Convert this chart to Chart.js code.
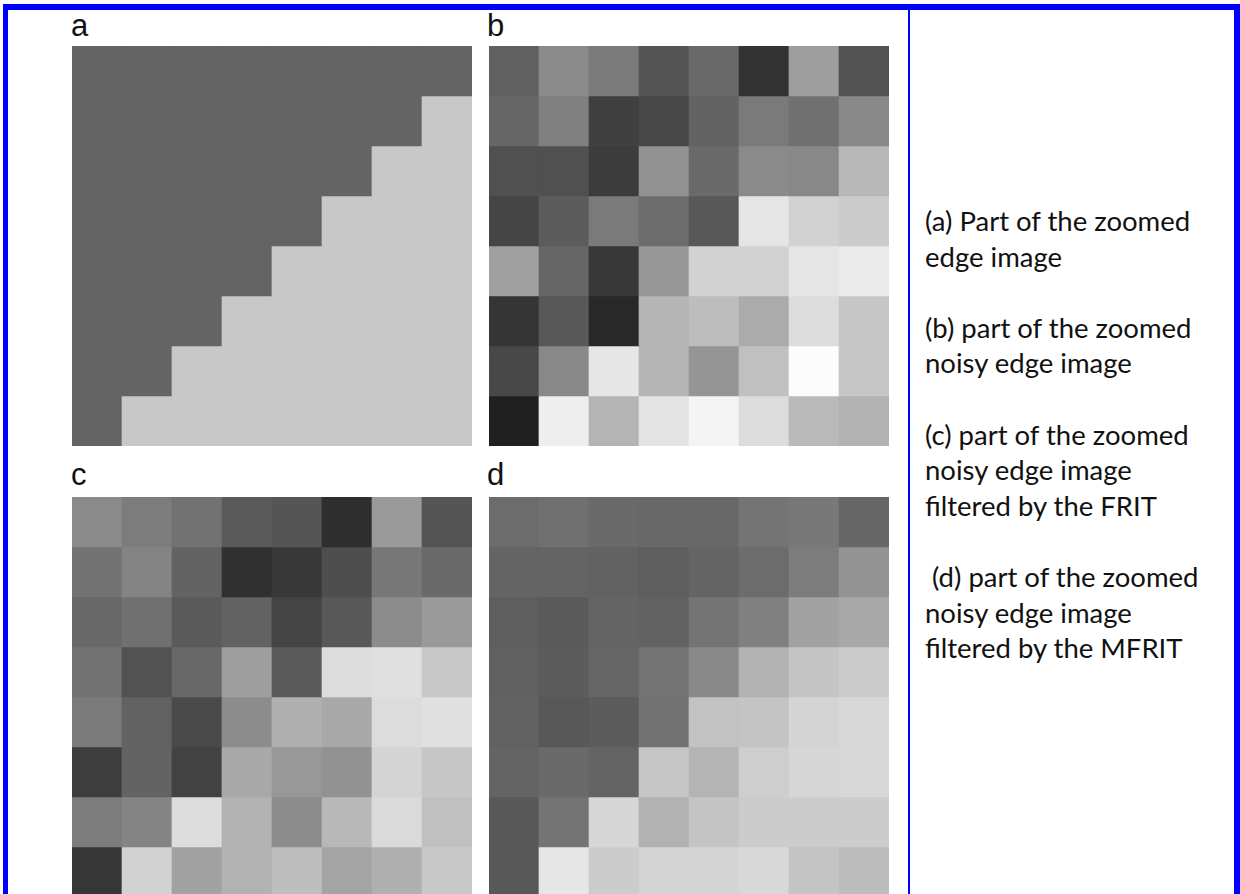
<!DOCTYPE html>
<html>
<head>
<meta charset="utf-8">
<script src="https://cdn.jsdelivr.net/npm/chart.js@4.4.0/dist/chart.umd.min.js"></script>
<style>
body { margin:0; background:#fff; }
#page { position:relative; width:1240px; height:894px; overflow:hidden; background:#fff; }
.frame { position:absolute; background:#0000ff; }
.panel { position:absolute; width:400px; height:400px; }
.lbl { position:absolute; font-family:"Liberation Sans", Arial, sans-serif; font-size:31px; line-height:31px; color:#111; }
#caption { position:absolute; left:925px; top:203px; font-family:Lato, sans-serif; font-size:27.5px; line-height:35.6px; color:#111; white-space:pre; }
</style>
</head>
<body>
<div id="page">
	<div class="frame" style="left:3px;top:4px;width:1237px;height:6px"></div>
	<div class="frame" style="left:3px;top:4px;width:5px;height:890px"></div>
	<div class="frame" style="left:1234px;top:4px;width:6px;height:890px"></div>
	<div class="frame" style="left:908px;top:4px;width:2px;height:890px"></div>

	<div class="lbl" style="left:71px;top:10px">a</div>
	<div class="lbl" style="left:487px;top:10px">b</div>
	<div class="lbl" style="left:71px;top:459px">c</div>
	<div class="lbl" style="left:487px;top:459px">d</div>

	<div class="panel" style="left:72px;top:46px"><canvas id="chartA" width="400" height="400"></canvas></div>
	<div class="panel" style="left:489px;top:46px"><canvas id="chartB" width="400" height="400"></canvas></div>
	<div class="panel" style="left:72px;top:497px"><canvas id="chartC" width="400" height="400"></canvas></div>
	<div class="panel" style="left:489px;top:497px"><canvas id="chartD" width="400" height="400"></canvas></div>

	<div id="caption">(a) Part of the zoomed
edge image

(b) part of the zoomed
noisy edge image

(c) part of the zoomed
noisy edge image
filtered by the FRIT

 (d) part of the zoomed
noisy edge image
filtered by the MFRIT</div>
</div>

<script>
// columns / rows of the 8x8 zoomed patch
var cols = ['1', '2', '3', '4', '5', '6', '7', '8'];
var rows = ['1', '2', '3', '4', '5', '6', '7', '8'];

// gray levels (0-255), one array per row, top row first
// (a) edge image
var grayA = [
	[100, 100, 100, 100, 100, 100, 100, 100],
	[100, 100, 100, 100, 100, 100, 100, 200],
	[100, 100, 100, 100, 100, 100, 200, 200],
	[100, 100, 100, 100, 100, 200, 200, 200],
	[100, 100, 100, 100, 200, 200, 200, 200],
	[100, 100, 100, 200, 200, 200, 200, 200],
	[100, 100, 200, 200, 200, 200, 200, 200],
	[100, 200, 200, 200, 200, 200, 200, 200]
];

// (b) noisy edge image
var grayB = [
	[96, 138, 122, 85, 105, 51, 158, 82],
	[102, 128, 64, 72, 99, 122, 112, 136],
	[80, 80, 60, 146, 106, 138, 136, 184],
	[69, 92, 122, 108, 88, 229, 210, 204],
	[160, 102, 56, 150, 210, 210, 229, 234],
	[53, 88, 40, 181, 189, 171, 220, 198],
	[72, 136, 230, 181, 149, 192, 252, 198],
	[32, 238, 180, 227, 244, 220, 186, 178]
];

// (c) filtered by the FRIT
var grayC = [
	[138, 124, 114, 90, 85, 46, 154, 85],
	[114, 132, 99, 48, 56, 78, 120, 106],
	[104, 112, 90, 98, 68, 88, 140, 154],
	[114, 82, 104, 158, 90, 220, 224, 200],
	[122, 98, 74, 140, 176, 168, 220, 224],
	[62, 99, 66, 168, 152, 146, 212, 198],
	[124, 132, 220, 178, 140, 184, 218, 192],
	[54, 210, 162, 178, 190, 164, 176, 200]
];

// (d) filtered by the MFRIT
var grayD = [
	[108, 112, 106, 104, 104, 116, 120, 102],
	[100, 100, 98, 94, 100, 108, 124, 148],
	[94, 90, 100, 98, 116, 128, 162, 168],
	[96, 92, 102, 116, 136, 178, 196, 204],
	[98, 88, 92, 114, 194, 196, 212, 216],
	[100, 106, 100, 198, 180, 206, 214, 216],
	[88, 116, 214, 178, 196, 204, 204, 204],
	[88, 230, 204, 212, 212, 216, 196, 188]
];

function drawPanel(id, gray) {
	var datasets = [];
	for (var r = 0; r < rows.length; r++) {
		datasets.push({
			label: rows[r],
			data: gray[r].map(function() { return 1; }),
			backgroundColor: gray[r].map(function(v) { return 'rgb(' + v + ',' + v + ',' + v + ')'; }),
			borderWidth: 0,
			barPercentage: 1,
			categoryPercentage: 1
		});
	}

	new Chart(document.getElementById(id), {
		type: 'bar',
		data: {
			labels: cols,
			datasets: datasets
		},
		options: {
			responsive: false,
			animation: false,
			layout: { padding: 0 },
			plugins: {
				legend: { display: false },
				tooltip: { enabled: false }
			},
			scales: {
				x: { stacked: true, display: false },
				y: { stacked: true, display: false, reverse: true, min: 0, max: rows.length }
			}
		}
	});
}

drawPanel('chartA', grayA);
drawPanel('chartB', grayB);
drawPanel('chartC', grayC);
drawPanel('chartD', grayD);
</script>
</body>
</html>
